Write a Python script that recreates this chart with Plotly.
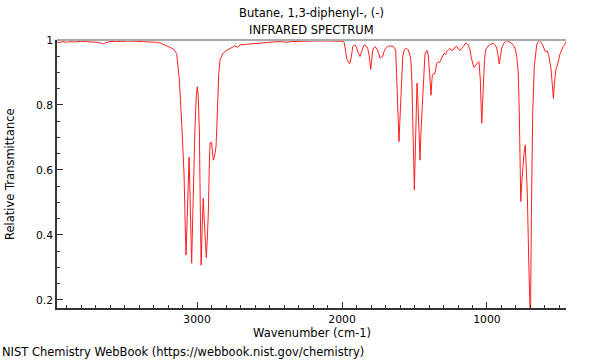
import plotly.graph_objects as go

wavenumber = [3966, 3950, 3930, 3900, 3870, 3840, 3800, 3760, 3720, 3690, 3660, 3645, 3630, 3600, 3560, 3520, 3480, 3440, 3400, 3360, 3320, 3280, 3250, 3220, 3190, 3163, 3150, 3140, 3130, 3122, 3106, 3090, 3080, 3076, 3068, 3060, 3055, 3050, 3042, 3037, 3030, 3022, 3014, 3005, 2998, 2992, 2984, 2978, 2972, 2965, 2957, 2950, 2940, 2936, 2930, 2922, 2915, 2910, 2900, 2895, 2888, 2880, 2869, 2862, 2857, 2850, 2841, 2830, 2819, 2800, 2772, 2750, 2738, 2720, 2703, 2650, 2588, 2530, 2476, 2420, 2380, 2350, 2300, 2200, 2100, 2040, 2000, 1985, 1975, 1968, 1955, 1945, 1935, 1926, 1910, 1900, 1892, 1876, 1868, 1860, 1850, 1841, 1830, 1823, 1812, 1802, 1795, 1788, 1772, 1756, 1745, 1738, 1728, 1719, 1710, 1699, 1685, 1664, 1646, 1635, 1630, 1624, 1619, 1612, 1607, 1602, 1595, 1588, 1581, 1570, 1563, 1550, 1543, 1530, 1524, 1518, 1512, 1506, 1501, 1496, 1492, 1487, 1483, 1478, 1474, 1468, 1462, 1455, 1448, 1440, 1434, 1428, 1421, 1412, 1406, 1402, 1396, 1393, 1386, 1381, 1377, 1370, 1365, 1359, 1352, 1347, 1336, 1328, 1319, 1308, 1296, 1285, 1278, 1266, 1255, 1245, 1232, 1221, 1209, 1198, 1186, 1175, 1163, 1152, 1140, 1130, 1117, 1110, 1105, 1097, 1090, 1080, 1071, 1060, 1055, 1050, 1046, 1040, 1036, 1031, 1025, 1017, 1009, 1000, 991, 975, 956, 945, 933, 925, 915, 907, 898, 885, 864, 850, 830, 815, 807, 795, 784, 777, 772, 767, 760, 754, 745, 736, 729, 722, 712, 705, 700, 694, 685, 674, 665, 657, 648, 639, 628, 616, 605, 598, 590, 584, 575, 565, 558, 552, 547, 542, 536, 531, 525, 519, 512, 505, 498, 492, 484, 474, 465, 455]

transmittance = [0.994, 0.992, 0.995, 0.993, 0.995, 0.994, 0.996, 0.995, 0.994, 0.993, 0.990, 0.988, 0.992, 0.995, 0.996, 0.995, 0.997, 0.996, 0.997, 0.996, 0.995, 0.993, 0.99, 0.985, 0.978, 0.972, 0.965, 0.955, 0.92, 0.877, 0.745, 0.59, 0.40, 0.338, 0.45, 0.60, 0.64, 0.55, 0.38, 0.313, 0.45, 0.65, 0.733, 0.83, 0.856, 0.83, 0.72, 0.50, 0.307, 0.42, 0.513, 0.44, 0.34, 0.33, 0.38, 0.47, 0.62, 0.683, 0.685, 0.66, 0.63, 0.64, 0.672, 0.75, 0.826, 0.90, 0.94, 0.952, 0.96, 0.967, 0.975, 0.98, 0.982, 0.978, 0.985, 0.987, 0.99, 0.992, 0.994, 0.995, 0.993, 0.995, 0.996, 0.997, 0.997, 0.997, 0.996, 0.993, 0.97, 0.944, 0.93, 0.928, 0.95, 0.98, 0.985, 0.978, 0.964, 0.949, 0.96, 0.974, 0.983, 0.985, 0.98, 0.975, 0.95, 0.91, 0.94, 0.97, 0.98, 0.97, 0.955, 0.944, 0.948, 0.95, 0.965, 0.974, 0.98, 0.982, 0.98, 0.975, 0.97, 0.90, 0.826, 0.72, 0.687, 0.74, 0.826, 0.90, 0.95, 0.97, 0.974, 0.972, 0.97, 0.95, 0.933, 0.87, 0.775, 0.62, 0.538, 0.63, 0.72, 0.82, 0.867, 0.83, 0.775, 0.68, 0.63, 0.72, 0.79, 0.87, 0.928, 0.955, 0.964, 0.967, 0.955, 0.94, 0.90, 0.877, 0.83, 0.87, 0.89, 0.897, 0.895, 0.897, 0.915, 0.928, 0.933, 0.93, 0.938, 0.95, 0.959, 0.955, 0.964, 0.97, 0.974, 0.968, 0.97, 0.978, 0.98, 0.972, 0.967, 0.975, 0.98, 0.988, 0.99, 0.985, 0.97, 0.95, 0.938, 0.925, 0.916, 0.922, 0.928, 0.932, 0.933, 0.91, 0.877, 0.79, 0.744, 0.80, 0.877, 0.94, 0.97, 0.978, 0.982, 0.987, 0.99, 0.985, 0.975, 0.955, 0.926, 0.95, 0.975, 0.99, 0.998, 0.995, 0.99, 0.982, 0.975, 0.95, 0.897, 0.77, 0.62, 0.503, 0.56, 0.60, 0.65, 0.677, 0.62, 0.53, 0.32, 0.14, 0.12, 0.45, 0.77, 0.918, 0.96, 0.985, 0.995, 0.998, 0.993, 0.985, 0.972, 0.964, 0.965, 0.967, 0.955, 0.933, 0.91, 0.877, 0.84, 0.82, 0.86, 0.897, 0.91, 0.916, 0.925, 0.94, 0.955, 0.964, 0.97, 0.98, 0.985, 0.995]

title_lines = ["Butane, 1,3-diphenyl-, (-)", "INFRARED SPECTRUM"]
x_title = "Wavenumber (cm-1)"
y_title = "Relative Transmittance"
footer = "NIST Chemistry WebBook (https://webbook.nist.gov/chemistry)"

FONT = "DejaVu Sans"
TXT = 11.5
TICK = 10.8

fig = go.Figure()
fig.add_trace(go.Scatter(x=wavenumber, y=transmittance, mode="lines",
                         line=dict(color="rgb(255,30,30)", width=1),
                         hoverinfo="skip", showlegend=False))

fig.update_layout(
    width=600, height=360,
    margin=dict(l=57, r=34, t=40, b=52),
    paper_bgcolor="white", plot_bgcolor="white",
    font=dict(family=FONT, size=TXT, color="black"),
    showlegend=False,
)
fig.update_xaxes(
    range=[3966, 455], dtick=1000, tick0=0,
    ticks="inside", ticklen=6, tickcolor="#333", tickwidth=1,
    minor=dict(dtick=100, ticks="inside", ticklen=3, tickcolor="#333"),
    showline=True, linecolor="#333", linewidth=1.5,
    showgrid=False, zeroline=False,
    tickfont=dict(family=FONT, size=TICK),
)
fig.update_yaxes(
    range=[0.175, 1.0], dtick=0.2, tick0=0,
    ticks="inside", ticklen=6, tickcolor="#333", tickwidth=1,
    minor=dict(dtick=0.05, ticks="inside", ticklen=3, tickcolor="#333"),
    showline=True, linecolor="#333", linewidth=1.5,
    showgrid=False, zeroline=False,
    tickfont=dict(family=FONT, size=TICK),
)

fig.add_shape(type="line", xref="paper", yref="paper", x0=0, x1=1, y0=1, y1=1,
              line=dict(color="#aaaaaa", width=2))

fig.add_annotation(text=title_lines[0], xref="paper", yref="paper", x=0.5, y=1,
                   yanchor="middle", yshift=27, showarrow=False,
                   font=dict(family=FONT, size=TXT))
fig.add_annotation(text=title_lines[1], xref="paper", yref="paper", x=0.5, y=1,
                   yanchor="middle", yshift=10, showarrow=False,
                   font=dict(family=FONT, size=TXT))
fig.add_annotation(text=x_title, xref="paper", yref="paper", x=0.5, y=0,
                   yanchor="middle", yshift=-25, showarrow=False,
                   font=dict(family=FONT, size=TXT))
fig.add_annotation(text=y_title, xref="paper", yref="paper", x=0, y=0.5,
                   xanchor="center", xshift=-47, textangle=-90, showarrow=False,
                   font=dict(family=FONT, size=TXT))
fig.add_annotation(text=footer, xref="paper", yref="paper", x=0, y=0,
                   xanchor="left", xshift=-57, yanchor="middle", yshift=-44,
                   showarrow=False, font=dict(family=FONT, size=TXT))

fig.write_html("out.html", config={"displayModeBar": False},
               post_script="document.body.style.margin='0';document.body.style.padding='0';")
